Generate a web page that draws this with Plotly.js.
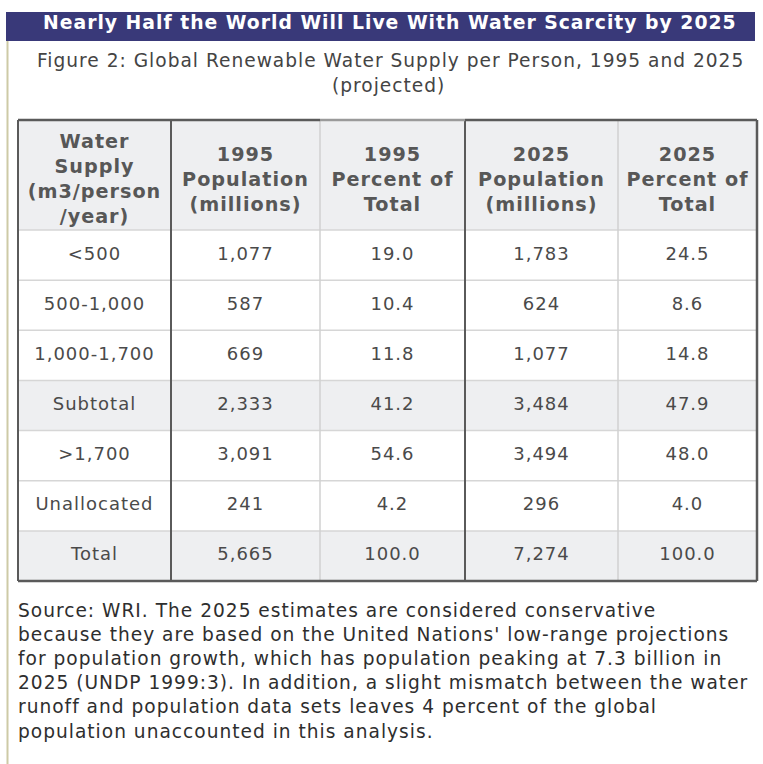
<!DOCTYPE html>
<html>
<head>
<meta charset="utf-8">
<script src="https://cdn.plot.ly/plotly-3.0.1.min.js"></script>
<style>
html,body{margin:0;padding:0;background:#fff;}
#chart{width:763px;height:764px;}
svg text{letter-spacing:1px;}
</style>
</head>
<body>
<div id="chart"></div>
<script>
// ---- data ----
const chartTitle = "Nearly Half the World Will Live With Water Scarcity by 2025";
const subtitleLines = ["Figure 2: Global Renewable Water Supply per Person, 1995 and 2025", "(projected)"];
const headers = [
  "Water<br>Supply<br>(m3/person<br>/year)",
  "1995<br>Population<br>(millions)",
  "1995<br>Percent of<br>Total",
  "2025<br>Population<br>(millions)",
  "2025<br>Percent of<br>Total"
];
const categories = ["<500", "500-1,000", "1,000-1,700", "Subtotal", ">1,700", "Unallocated", "Total"];
const pop1995 = [1077, 587, 669, 2333, 3091, 241, 5665];
const pct1995 = [19.0, 10.4, 11.8, 41.2, 54.6, 4.2, 100.0];
const pop2025 = [1783, 624, 1077, 3484, 3494, 296, 7274];
const pct2025 = [24.5, 8.6, 14.8, 47.9, 48.0, 4.0, 100.0];
const shadedRows = ["Subtotal", "Total"];
const sourceLines = [
  "Source: WRI. The 2025 estimates are considered conservative",
  "because they are based on the United Nations' low-range projections",
  "for population growth, which has population peaking at 7.3 billion in",
  "2025 (UNDP 1999:3). In addition, a slight mismatch between the water",
  "runoff and population data sets leaves 4 percent of the global",
  "population unaccounted in this analysis."
];

// ---- layout geometry ----
const colEdges = [18, 171, 320, 465, 618, 757];
const tableTop = 120, headerBottom = 230, rowH = 50.15;
const nRows = categories.length;
const tableBottom = headerBottom + rowH * nRows;
const FONT = "DejaVu Sans, Verdana, sans-serif";

const fmtPop = v => v.toLocaleString("en-US");
const fmtPct = v => v.toFixed(1);
const columns = [
  categories,
  pop1995.map(fmtPop),
  pct1995.map(fmtPct),
  pop2025.map(fmtPop),
  pct2025.map(fmtPct)
];

const colCenter = c => (colEdges[c] + colEdges[c + 1]) / 2;
const rowCenter = r => headerBottom + rowH * r + rowH / 2;

const traces = [];
// header text
traces.push({
  type: "scatter", mode: "text",
  x: headers.map((h, c) => colCenter(c)),
  y: headers.map(() => (tableTop + headerBottom) / 2 + 6),
  text: headers.map(h => "<b>" + h + "</b>"),
  textposition: "middle center",
  textfont: {family: FONT, size: 19.2, color: "#575757"},
  hoverinfo: "skip", showlegend: false, cliponaxis: false
});
// body text
columns.forEach((col, c) => {
  traces.push({
    type: "scatter", mode: "text",
    x: col.map(() => colCenter(c)),
    y: col.map((v, r) => rowCenter(r)),
    text: col,
    textposition: "middle center",
    textfont: {family: FONT, size: 18, color: "#4a4a4a"},
    hoverinfo: "skip", showlegend: false, cliponaxis: false
  });
});

const shapes = [];
// title bar
shapes.push({type: "rect", xref: "x", yref: "y", x0: 6, x1: 755, y0: 12, y1: 41,
  fillcolor: "#393979", line: {width: 0}, layer: "below"});
// frame line on left
shapes.push({type: "line", xref: "x", yref: "y", x0: 7.5, x1: 7.5, y0: 41, y1: 764,
  line: {color: "#cdcaa6", width: 2}});
// header fill
shapes.push({type: "rect", xref: "x", yref: "y", x0: colEdges[0], x1: colEdges[5], y0: tableTop, y1: headerBottom,
  fillcolor: "#eeeff1", line: {width: 0}, layer: "below"});
// shaded rows
categories.forEach((cat, r) => {
  if (shadedRows.includes(cat)) {
    shapes.push({type: "rect", xref: "x", yref: "y", x0: colEdges[0], x1: colEdges[5],
      y0: headerBottom + rowH * r, y1: headerBottom + rowH * (r + 1),
      fillcolor: "#eeeff1", line: {width: 0}, layer: "below"});
  }
});
// thin horizontal lines
for (let r = 0; r < nRows; r++) {
  const y = headerBottom + rowH * r;
  shapes.push({type: "line", xref: "x", yref: "y", x0: colEdges[0], x1: colEdges[5], y0: y, y1: y,
    line: {color: "#d6d6d6", width: 1.5}});
}
// thin vertical lines
[2, 4].forEach(c => {
  shapes.push({type: "line", xref: "x", yref: "y", x0: colEdges[c], x1: colEdges[c], y0: tableTop, y1: tableBottom,
    line: {color: "#d0d0d0", width: 1.5}});
});
// thick vertical lines
[1, 3].forEach(c => {
  shapes.push({type: "line", xref: "x", yref: "y", x0: colEdges[c], x1: colEdges[c], y0: tableTop, y1: tableBottom,
    line: {color: "#5a5a5a", width: 2}});
});
// outer border
const dark = "#5a5a5a";
shapes.push({type: "line", xref: "x", yref: "y", x0: colEdges[0], x1: colEdges[0], y0: tableTop, y1: tableBottom, line: {color: dark, width: 2}});
shapes.push({type: "line", xref: "x", yref: "y", x0: colEdges[5], x1: colEdges[5], y0: tableTop, y1: tableBottom, line: {color: dark, width: 2.5}});
shapes.push({type: "line", xref: "x", yref: "y", x0: colEdges[0], x1: colEdges[5], y0: tableBottom, y1: tableBottom, line: {color: dark, width: 2.5}});
shapes.push({type: "line", xref: "x", yref: "y", x0: colEdges[0], x1: colEdges[2], y0: tableTop, y1: tableTop, line: {color: dark, width: 2.5}});
shapes.push({type: "line", xref: "x", yref: "y", x0: colEdges[2], x1: colEdges[3], y0: tableTop, y1: tableTop, line: {color: "#9a9a9a", width: 2.5}});
shapes.push({type: "line", xref: "x", yref: "y", x0: colEdges[3], x1: colEdges[5], y0: tableTop, y1: tableTop, line: {color: dark, width: 2.5}});

const annotations = [];
annotations.push({xref: "x", yref: "y", x: 390, y: 22.5, text: "<b>" + chartTitle + "</b>", showarrow: false,
  xanchor: "center", yanchor: "middle", font: {family: FONT, size: 18.8, color: "#ffffff"}});
annotations.push({xref: "x", yref: "y", x: 390, y: 60, text: subtitleLines[0], showarrow: false,
  xanchor: "center", yanchor: "middle", font: {family: FONT, size: 18.6, color: "#444444"}});
annotations.push({xref: "x", yref: "y", x: 388, y: 85, text: subtitleLines[1], showarrow: false,
  xanchor: "center", yanchor: "middle", font: {family: FONT, size: 18.6, color: "#444444"}});
sourceLines.forEach((line, i) => {
  annotations.push({xref: "x", yref: "y", x: 16, y: 610 + 24.2 * i, text: line, showarrow: false,
    xanchor: "left", yanchor: "middle", font: {family: FONT, size: 18.6, color: "#2e2e2e"}});
});

const layout = {
  width: 763, height: 764,
  margin: {l: 0, r: 0, t: 0, b: 0, pad: 0},
  paper_bgcolor: "#ffffff", plot_bgcolor: "#ffffff",
  xaxis: {range: [0, 763], visible: false, fixedrange: true},
  yaxis: {range: [764, 0], visible: false, fixedrange: true},
  shapes: shapes, annotations: annotations, showlegend: false
};

Plotly.newPlot("chart", traces, layout, {displayModeBar: false, staticPlot: true});
</script>
</body>
</html>
